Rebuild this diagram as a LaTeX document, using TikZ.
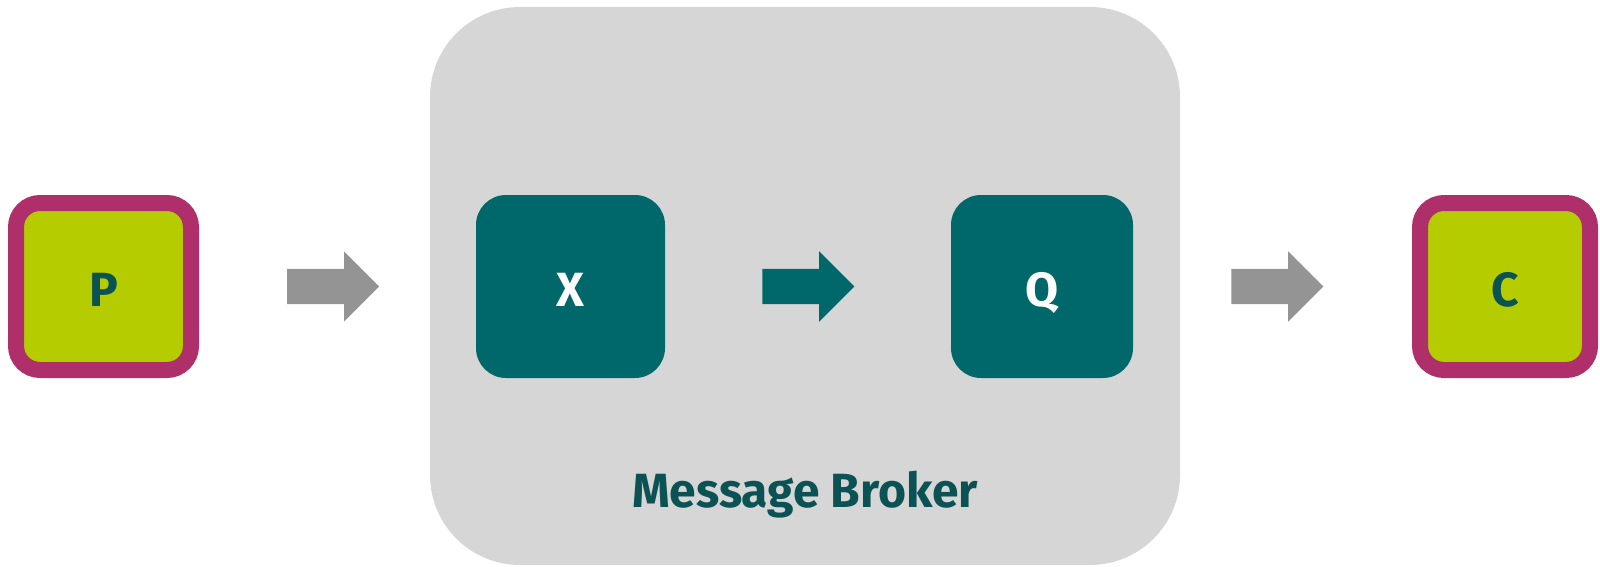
\documentclass[tikz,border=0pt]{standalone}
\usepackage{fontspec}
\setmainfont{Fira Sans}
\usetikzlibrary{shapes.arrows}

\definecolor{brokergray}{HTML}{D6D6D6}
\definecolor{boxteal}{HTML}{00676A}
\definecolor{darkteal}{HTML}{0B5255}
\definecolor{lime}{HTML}{B5CC00}
\definecolor{berry}{HTML}{AF2F6B}
\definecolor{arrowgray}{HTML}{949494}

\tikzset{
  client/.style={draw=berry, fill=lime, line width=16pt, rounded corners=24pt,
    minimum height=167pt, text=darkteal, text height=40pt, text depth=0pt,
    font=\fontsize{48}{48}\selectfont\bfseries},
  exchq/.style={fill=boxteal, rounded corners=30pt, minimum height=183pt,
    text=white, text height=40pt, text depth=0pt,
    font=\fontsize{48}{48}\selectfont\bfseries},
  flow/.style={single arrow, single arrow tip angle=90, single arrow head extend=17.5pt,
    minimum width=70pt, minimum height=92pt, inner xsep=0pt, inner ysep=17.5pt, anchor=tail},
}

\begin{document}
\begin{tikzpicture}[x=1pt, y=1pt]
  \useasboundingbox (0,0) rectangle (1600,566);
  % broker background
  \node[fill=brokergray, rounded corners=90pt, minimum width=750pt, minimum height=558pt] (broker) at (805,280) {};
  \node[anchor=base, text=darkteal, font=\fontsize{48}{48}\selectfont\bfseries] (brokerlbl) at ([yshift=58pt]broker.south) {Message Broker};

  % producer / consumer
  \node[client, minimum width=175pt] (P) at (103.5,279.5) {P};
  \node[client, minimum width=170pt] (C) at (1505,279.5) {C};

  % exchange and queue
  \node[exchq, minimum width=189pt] (X) at (570.5,279.5) {X};
  \node[exchq, minimum width=182pt] (Q) at (1042,279.5) {Q};

  % flow arrows
  \node[flow, fill=arrowgray] (PX) at ([xshift=88pt]P.east) {};
  \node[flow, fill=boxteal] (XQ) at ([xshift=97pt]X.east) {};
  \node[flow, fill=arrowgray] (QC) at ([xshift=98pt]Q.east) {};
\end{tikzpicture}
\end{document}
